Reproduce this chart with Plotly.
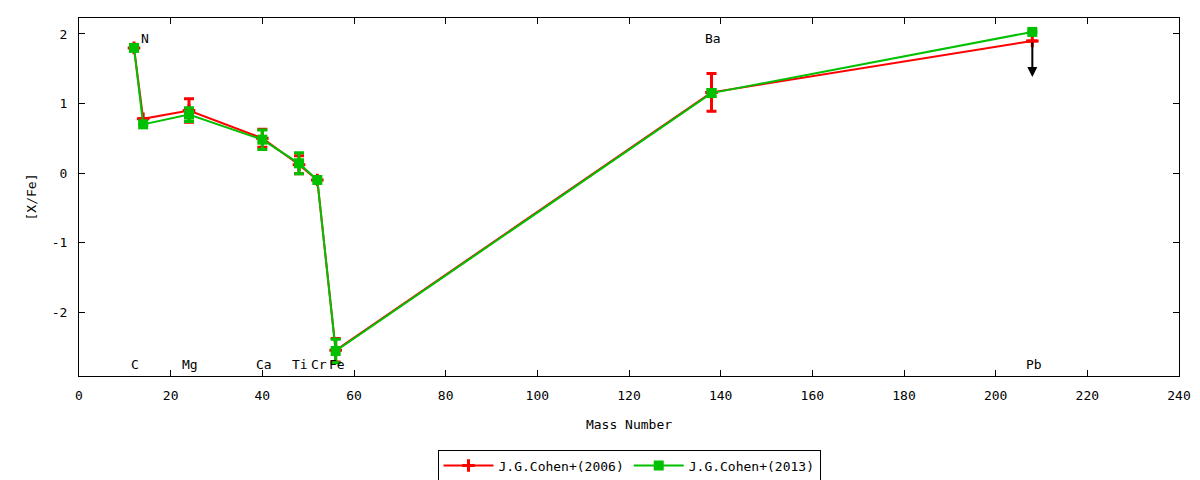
import plotly.graph_objects as go

# element labels (mass number, position of text)
elements = ['C', 'N', 'Mg', 'Ca', 'Ti', 'Cr', 'Fe', 'Ba', 'Pb']
mass = [12, 14, 24, 40, 48, 52, 56, 138, 208]
label_y = [-2.75, 1.93, -2.75, -2.75, -2.75, -2.75, -2.75, 1.93, -2.75]

# J.G.Cohen+(2006)
cohen06 = [1.80, 0.78, 0.90, 0.50, 0.12, -0.10, -2.55, 1.16, 1.90]
cohen06_err = [0.0, 0.0, 0.17, 0.13, 0.13, 0.0, 0.17, 0.27, 0.0]

# J.G.Cohen+(2013)
cohen13 = [1.80, 0.70, 0.84, 0.48, 0.14, -0.10, -2.56, 1.15, 2.03]
cohen13_err = [0.0, 0.0, 0.10, 0.14, 0.15, 0.0, 0.17, 0.05, 0.0]

# Pb upper limit arrow (2006)
pb_limit_from = 1.90
pb_limit_to = 1.38

# y ticks with plain hyphen minus, like gnuplot
y_ticks = [-2, -1, 0, 1, 2]
y_ticklabels = ['-2', '-1', '0', '1', '2']

mono = "DejaVu Sans Mono"

fig = go.Figure()

fig.add_trace(go.Scatter(
    x=mass, y=cohen06, mode='lines+markers',
    name='J.G.Cohen+(2006)',
    line=dict(color='#ff0000', width=2),
    marker=dict(symbol='cross-thin-open', size=9, color='#ff0000',
                line=dict(color='#ff0000', width=3)),
    error_y=dict(type='data', array=cohen06_err, color='#ff0000',
                 thickness=3, width=5),
))

fig.add_trace(go.Scatter(
    x=mass, y=cohen13, mode='lines+markers',
    name='J.G.Cohen+(2013)',
    line=dict(color='#00c000', width=2),
    marker=dict(symbol='square', size=10, color='#00c000'),
    error_y=dict(type='data', array=cohen13_err, color='#00c000',
                 thickness=3, width=5),
))

# upper limit arrow on Pb
fig.add_annotation(
    x=mass[-1], y=pb_limit_to, ax=mass[-1], ay=pb_limit_from,
    xref='x', yref='y', axref='x', ayref='y',
    showarrow=True, arrowhead=2, arrowsize=1, arrowwidth=2,
    arrowcolor='black', text='',
)

for name, xm, yl in zip(elements, mass, label_y):
    fig.add_annotation(
        x=xm + 0.3, y=yl, text=name, showarrow=False,
        font=dict(family=mono, size=13, color='black'),
        xanchor='center', yanchor='middle',
    )

axis_style = dict(
    showline=True, linecolor='black', linewidth=1, mirror='ticks',
    ticks='inside', ticklen=6, tickcolor='black',
    showgrid=False, zeroline=False, automargin=False,
    tickfont=dict(family=mono, size=13, color='black'),
)

fig.update_xaxes(range=[0, 240], dtick=20, tick0=0, ticklabelstandoff=7,
                 title=dict(text='Mass Number', font=dict(family=mono, size=13),
                            standoff=18),
                 **axis_style)
fig.update_yaxes(range=[-2.92, 2.23], tickvals=y_ticks, ticktext=y_ticklabels,
                 ticklabelstandoff=8,
                 title=dict(text='[X/Fe]', font=dict(family=mono, size=13),
                            standoff=12),
                 **axis_style)

# the page adds a small offset, so margins are shifted up/left by 7px
fig.update_layout(
    width=1200, height=480,
    plot_bgcolor='white', paper_bgcolor='white',
    margin=dict(l=71, r=29, t=10, b=112, autoexpand=False),
    font=dict(family=mono, size=13, color='black'),
    legend=dict(
        orientation='h', x=0.5, xanchor='center', y=-0.25, yanchor='middle',
        bordercolor='black', borderwidth=1, itemwidth=50,
        font=dict(family=mono, size=13),
    ),
)

fig.write_html("out.html")
